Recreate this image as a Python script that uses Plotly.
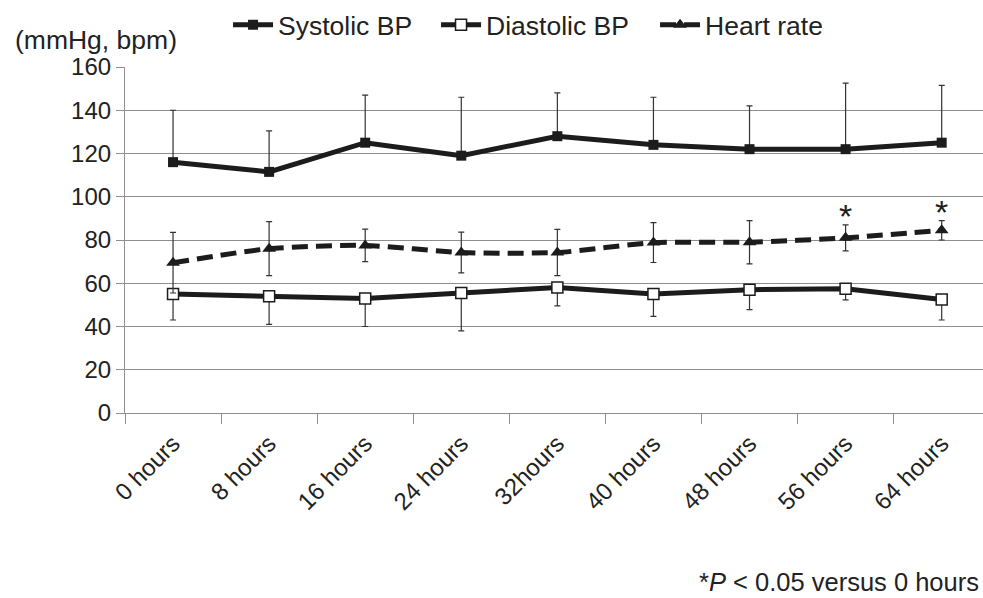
import plotly.graph_objects as go

categories = ["0 hours", "8 hours", "16 hours", "24 hours", "32hours",
              "40 hours", "48 hours", "56 hours", "64 hours"]
systolic = [116, 111.5, 125, 119, 128, 124, 122, 122, 125]
systolic_sd = [24, 19, 22, 27, 20, 22, 20, 30.5, 26.5]
diastolic = [55, 54, 53, 55.5, 58, 55, 57, 57.5, 52.5]
diastolic_sd = [12, 13, 13, 17.5, 8.5, 10.3, 9.2, 5.2, 9.5]
heart_rate = [69.5, 76, 77.5, 74.2, 74.2, 78.8, 79, 81, 84.5]
heart_rate_sd = [14, 12.5, 7.5, 9.4, 10.7, 9.2, 10, 6, 4.5]
significance = ["", "", "", "", "", "", "", "*", "*"]
y_ticks = [0, 20, 40, 60, 80, 100, 120, 140, 160]

INK = "#1c1c1c"
GRID = "#8e8e8e"
FONT = "Liberation Sans, Arial, sans-serif"

fig = go.Figure()

fig.add_trace(go.Scatter(
    x=categories, y=systolic, name="Systolic BP", mode="lines+markers",
    line=dict(color=INK, width=5),
    marker=dict(symbol="square", size=10, color=INK),
    error_y=dict(type="data", symmetric=False, array=systolic_sd,
                 arrayminus=[0] * len(systolic_sd), color="#333333",
                 thickness=1.2, width=3),
    legendwidth=153,
))
fig.add_trace(go.Scatter(
    x=categories, y=diastolic, name="Diastolic BP", mode="lines+markers",
    line=dict(color=INK, width=5),
    marker=dict(symbol="square", size=11, color="white",
                line=dict(color=INK, width=1.5)),
    error_y=dict(type="data", symmetric=False, array=[0] * len(diastolic_sd),
                 arrayminus=diastolic_sd, color="#333333",
                 thickness=1.2, width=3),
    legendwidth=164,
))
fig.add_trace(go.Scatter(
    x=categories, y=heart_rate, name="Heart rate", mode="lines+markers",
    line=dict(color=INK, width=5, dash="16px,8px", shape="spline", smoothing=0.6),
    marker=dict(symbol="triangle-up", size=12, color=INK),
    error_y=dict(type="data", array=heart_rate_sd, color="#333333",
                 thickness=1.2, width=3),
))

for cat, hr, sd, s in zip(categories, heart_rate, heart_rate_sd, significance):
    if s:
        fig.add_annotation(x=cat, y=hr + sd, text=s, showarrow=False,
                           yanchor="bottom", yshift=-12,
                           font=dict(family=FONT, size=34, color=INK))

fig.add_annotation(xref="paper", yref="paper", x=-0.1305, y=1.078,
                   xanchor="left", yanchor="middle", text="(mmHg, bpm)",
                   showarrow=False, font=dict(family=FONT, size=26.5, color="#222"))
fig.add_annotation(xref="paper", yref="paper", x=0.998, y=-0.488,
                   xanchor="right", yanchor="middle",
                   text="*<i>P</i> < 0.05 versus 0 hours",
                   showarrow=False, font=dict(family=FONT, size=25.5, color="#222"))

fig.update_layout(
    width=983, height=598,
    margin=dict(l=125, r=0, t=67, b=185, autoexpand=False),
    paper_bgcolor="white", plot_bgcolor="white",
    font=dict(family=FONT, size=24, color="#222"),
    showlegend=True,
    legend=dict(orientation="h", x=0.1201, y=1.121, xanchor="left", yanchor="middle",
                font=dict(size=26.5), itemwidth=40, tracegroupgap=0,
                bgcolor="rgba(0,0,0,0)"),
    xaxis=dict(type="category", range=[-0.5, 8.43], tickson="boundaries",
               ticks="outside", ticklen=10, tickcolor=GRID, tickwidth=1.2,
               showgrid=False, showline=True, linecolor=GRID, linewidth=1.2,
               tickangle=-45, tickfont=dict(size=24), automargin=False,
               ticklabelstandoff=6),
    yaxis=dict(range=[0, 160], tickvals=y_ticks, showgrid=True, gridcolor=GRID,
               gridwidth=1.2, zeroline=False, showline=True, linecolor=GRID,
               linewidth=1.2, ticks="outside", ticklen=8, tickcolor=GRID,
               tickfont=dict(size=24), automargin=False),
)

fig.write_html(
    "out.html",
    config={"displayModeBar": False},
    post_script="document.body.style.margin='0';document.body.style.overflow='hidden';",
)
